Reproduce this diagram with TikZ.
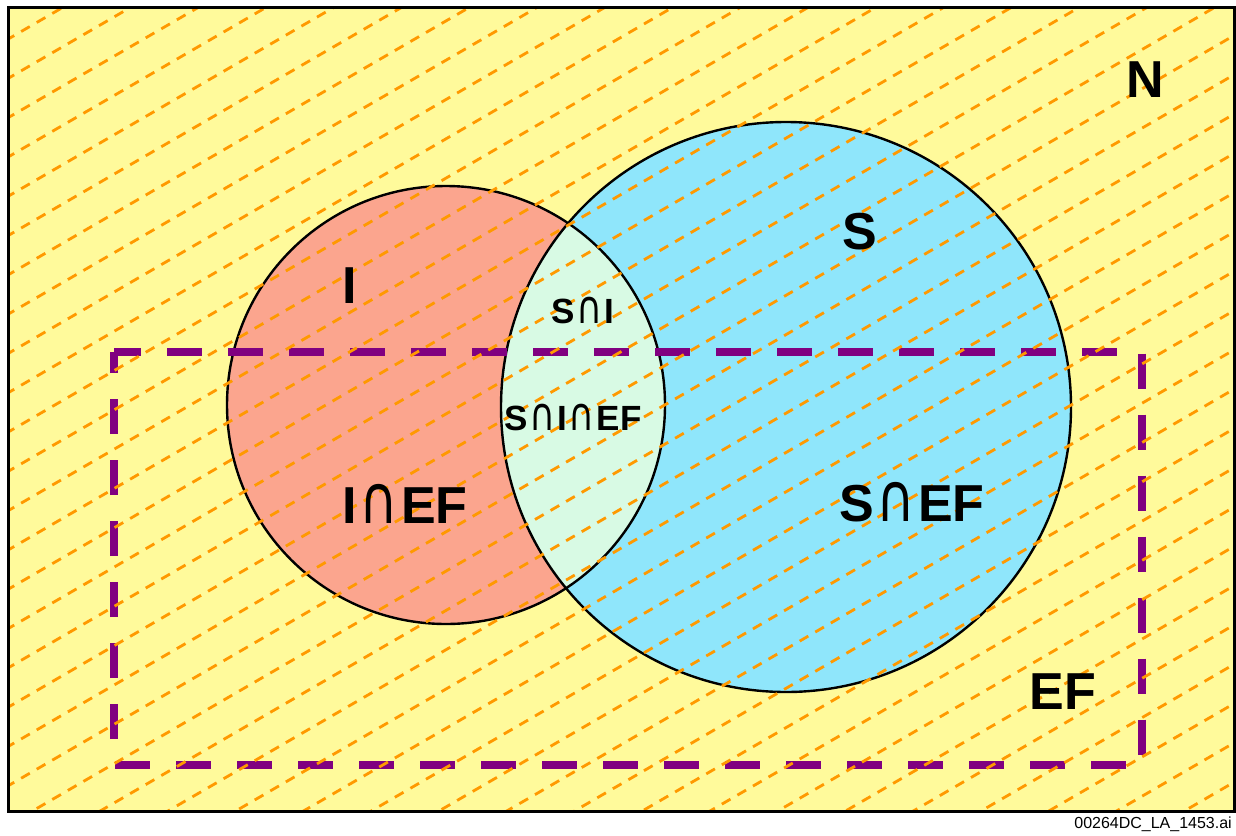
\documentclass[tikz,border=0pt]{standalone}
\usepackage{fontspec}
\setmainfont{Liberation Sans}
\newfontfamily\symfont{DejaVu Sans}
\usepackage{tikz}
\usetikzlibrary{calc}
\definecolor{bgyellow}{RGB}{255,250,155}
\definecolor{redset}{RGB}{251,165,142}
\definecolor{blueset}{RGB}{143,230,251}
\definecolor{lensgreen}{RGB}{216,250,228}
\definecolor{hatchorange}{RGB}{255,153,0}
\definecolor{efpurple}{RGB}{128,0,128}
\tikzstyle{setlabel} = [font=\fontsize{52}{60}\selectfont\bfseries, inner sep=0pt]
\tikzstyle{smalllabel} = [font=\fontsize{35}{42}\selectfont\bfseries, inner sep=0pt]
\tikzstyle{hatch} = [draw=hatchorange, line width=2.8pt, dash pattern=on 10pt off 8pt]
\tikzstyle{efbox} = [draw=efpurple, line width=8pt, dash pattern=on 35pt off 26pt, dash phase=8pt]
\tikzstyle{setedge} = [draw=black, line width=2.4pt]
\newcommand{\isect}{\kern0.05em\scalebox{1.02}[1.3]{\symfont\mdseries ∩}\kern0.05em}

\begin{document}
\begin{tikzpicture}[x=1pt, y=-1pt]
        \useasboundingbox (0,0) rectangle (1236,835);
        \fill[bgyellow] (8.5,7) rectangle (1234.5,811);

        % the two sets and their overlap
        \fill[redset] (446,405) circle (219);
        \fill[blueset] (786,407) circle (285);
        \begin{scope}
            \clip (446,405) circle (219);
            \fill[lensgreen] (786,407) circle (285);
        \end{scope}
        \draw[setedge] (446,405) circle (219);
        \draw[setedge] (786,407) circle (285);

        \coordinate (EFtl) at (114,352);
        \coordinate (EFtr) at (1141.5,352);
        \coordinate (EFbr) at (1141.5,764.5);
        \coordinate (EFbl) at (114,764.5);
        \draw[efbox] (EFtl) -- (EFtr) -- (EFbr) -- (EFbl) -- cycle;

        \begin{scope}
            \clip (8.5,7) rectangle (1234.5,811);
            \foreach \k in {-1,...,38}
                \draw[hatch] (-10, 49.6+39.3*\k) -- ++(1300,-754);
        \end{scope}
        \draw[line width=3pt] (8.5,7) rectangle (1234.5,811);

        \node[setlabel] at (1145,80) (N) {N};
        \node[setlabel] at (860,232) (S) {S};
        \node[setlabel] at (350,286) (I) {I};
        \node[smalllabel] at (583,310) (SI) {S\isect I};
        \node[smalllabel] at (573,417) (SIEF) {S\isect I\isect EF};
        \node[setlabel] at (405,504) (IEF) {I\isect EF};
        \node[setlabel] at (912,502) (SEF) {S\isect EF};
        \node[setlabel] at (1063,692) (EF) {EF};

        \node[anchor=east, inner sep=0pt, font=\fontsize{16}{18}\selectfont] at (1232,824) (FileTag) {00264DC\_LA\_1453.ai};
    \end{tikzpicture}
\end{document}
